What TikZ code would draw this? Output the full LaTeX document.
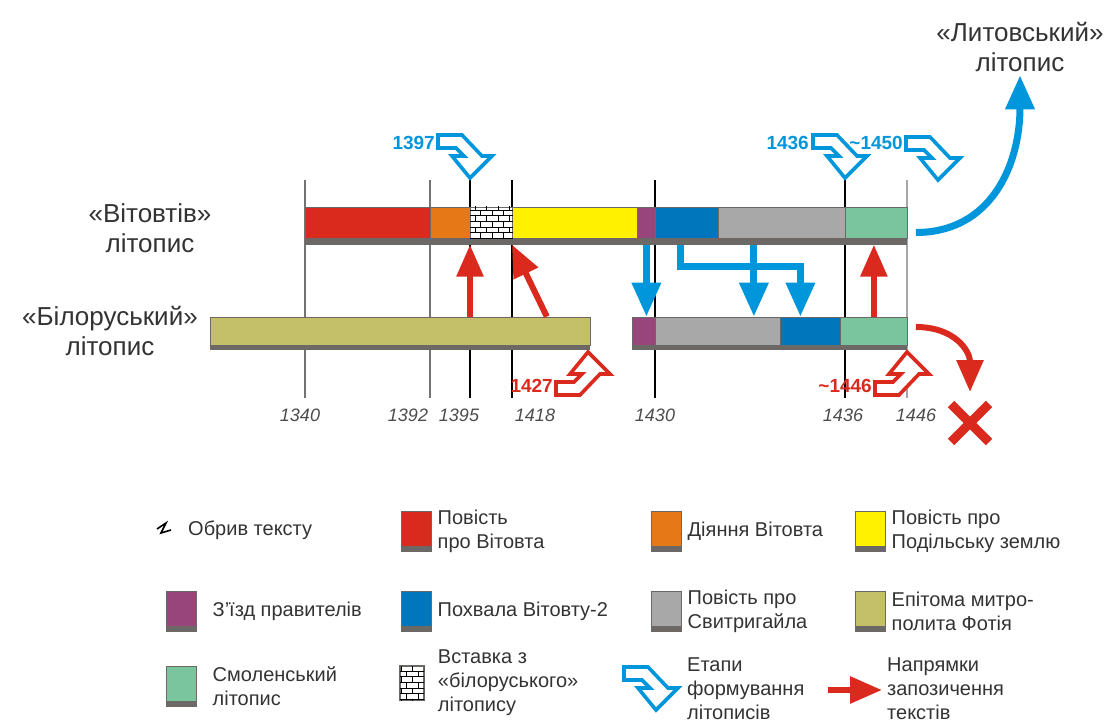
\documentclass[tikz,border=0pt]{standalone}
\usepackage{fontspec}
\setmainfont{Liberation Sans}
\usetikzlibrary{arrows.meta, positioning, calc, patterns, shapes.misc}

\definecolor{cRed}{HTML}{DA2A1E}
\definecolor{cOra}{HTML}{E67817}
\definecolor{cYel}{HTML}{FFF100}
\definecolor{cPur}{HTML}{97457A}
\definecolor{cBlu}{HTML}{0077BD}
\definecolor{cGry}{HTML}{A8A8A8}
\definecolor{cGrn}{HTML}{7BC59E}
\definecolor{cOli}{HTML}{C4C069}
\definecolor{cShd}{HTML}{6B6866}
\definecolor{cBlueL}{HTML}{0096DB}
\definecolor{cTxt}{HTML}{333333}

\tikzset{
    seg/.style={draw=cShd, line width=0.8pt, inner sep=0pt, anchor=west},
    shd/.style={fill=cShd, inner sep=0pt, anchor=west},
    redarr/.style={cRed, line width=6pt, -{Triangle[width=26pt,length=32pt]}},
    bluarr/.style={cBlueL, line width=7pt, -{Triangle[width=28pt,length=34pt]}},
    biglbl/.style={font=\fontsize{26}{30}\selectfont, align=center, text=cTxt},
    yearlbl/.style={font=\fontsize{18}{20}\selectfont\itshape, text=black!70},
    bluelbl/.style={font=\fontsize{19}{20}\selectfont\bfseries, text=cBlueL, anchor=east, inner sep=0pt},
    redlbl/.style={font=\fontsize{19}{20}\selectfont\bfseries, text=cRed, anchor=east, inner sep=0pt},
    legbox/.style={draw=cShd, line width=1pt, minimum width=30pt, minimum height=40pt, inner sep=0pt,
        path picture={\fill[cShd] (path picture bounding box.south west) rectangle ([yshift=5pt]path picture bounding box.south east);}},
    legtxt/.style={font=\fontsize{20}{24}\selectfont, text=cTxt, align=left, anchor=west, inner sep=0pt},
    stepicon/.pic={
        \filldraw[fill=white, line width=3.6pt, line join=miter]
            (-32,-43) -- (-8,-43) -- (12,-22) -- (22,-22) -- (0,0) -- (-18,-22)
            -- (-6,-22) -- (-14,-30) -- (-32,-30) -- cycle;
    }
}

\begin{document}
\begin{tikzpicture}[x=1pt, y=-1pt]
    \useasboundingbox (0,0) rectangle (1104,725);

    % year lines
    \foreach \x/\col in {305/black!55, 430/black!55, 470/black, 512/black, 655/black, 845/black, 907/black!35}
        \draw[\col, line width=1.6pt] (\x,180) -- (\x,398);
    \foreach \x/\yr in {300/1340, 408/1392, 459/1395, 535/1418, 655/1430, 843/1436, 916/1446}
        \node[yearlbl] (yr\yr) at (\x,415) {\yr};

    % "Vitovtiv" chronicle
    \node[shd, minimum width=602pt, minimum height=9pt] (tSh) at (305,240) {};
    \foreach \n/\xa/\xb/\col in {Red/305/430/cRed, Ora/430/470/cOra, Ins/470/512/white, Yel/512/637/cYel,
                                 Pur/637/655/cPur, Blu/655/718/cBlu, Gry/718/845/cGry, Grn/845/907/cGrn}
        \node[seg, fill=\col, minimum width={\xb-\xa}, minimum height=31pt] (t\n) at (\xa,222.5) {};
    \fill[pattern=bricks, pattern color=black] (tIns.south west) rectangle (tIns.north east);

    % "Biloruskyi" chronicle
    \node[shd, minimum width=380pt, minimum height=8pt] (bSh1) at (210,346) {};
    \node[shd, minimum width=275pt, minimum height=8pt] (bSh2) at (632,346) {};
    \node[seg, fill=cOli, minimum width=380pt, minimum height=28pt] (bOli) at (210,331) {};
    \foreach \n/\xa/\xb/\col in {Pur/632/655/cPur, Gry/655/780/cGry, Blu/780/840/cBlu, Grn/840/907/cGrn}
        \node[seg, fill=\col, minimum width={\xb-\xa}, minimum height=28pt] (b\n) at (\xa,331) {};

    \node[biglbl] (vit) at (150,228) {«Вітовтів»\\літопис};
    \node[biglbl] (bil) at (110,331) {«Білоруський»\\літопис};
    \node[biglbl] (lit) at (1020,47) {«Литовський»\\літопис};
    \node[cross out, draw=cRed, line width=9pt, minimum size=29pt] (lost) at (970,423) {};

    % borrowings
    \draw[redarr] (tIns.west |- bOli.north) -- (tIns.west |- tSh.south);
    \draw[redarr] ([xshift=-44pt]bOli.north east) -- (tYel.west |- tSh.south);
    \draw[redarr] (bGrn.north) -- (bGrn.north |- tSh.south);

    % stages
    \coordinate (sPur) at (tPur.south);
    \coordinate (sBlu) at ([xshift=-6pt]tBlu.south);
    \coordinate (sGry) at ([xshift=-28pt]tGry.south);
    \coordinate (eBlu) at ([xshift=-10pt]bBlu.north);
    \draw[bluarr] (sPur |- tSh.south) -- (sPur |- bPur.north);
    \draw[bluarr] (sBlu |- tSh.south) -- ++(0,22) -| (eBlu);
    \draw[bluarr] (sGry |- tSh.south) -- (sGry |- bGry.north);
    \draw[bluarr] ([shift={(8,10)}]tGrn.east) .. controls +(75,0) and +(0,90) .. (lit.south);
    \draw[redarr] ([shift={(8,-4)}]bGrn.east) .. controls +(40,0) and +(0,-40) .. ([yshift=12pt]lost.north);

    \pic[cBlueL] at (470,178) {stepicon};
    \node[bluelbl] (s1397) at (435,143) {1397};
    \pic[cBlueL] at (845,178) {stepicon};
    \node[bluelbl] (s1436) at (809,143) {1436};
    \pic[cBlueL] at (938,180) {stepicon};
    \node[bluelbl] (s1450) at (903,143) {\textasciitilde1450};
    \pic[cRed, yscale=-1] at (588,352) {stepicon};
    \node[redlbl] (s1427) at (553,386) {1427};
    \pic[cRed, yscale=-1] at (907,352) {stepicon};
    \node[redlbl] (s1446) at (872,386) {\textasciitilde1446};

    % legend
    \draw[line width=1.6pt] (157,529) -- (166,523) -- (161,533) -- (171,530);
    \node[legtxt] (lgBreak) at (188,530) {Обрив тексту};
    \node[legbox, fill=cRed] (kRed) at (416,531) {};
    \node[legtxt, right=6pt of kRed] (lgRed) {Повість\\про Вітовта};
    \node[legbox, fill=cOra] (kOra) at (666,531) {};
    \node[legtxt, right=6pt of kOra] (lgOra) {Діяння Вітовта};
    \node[legbox, fill=cYel] (kYel) at (870,531) {};
    \node[legtxt, right=6pt of kYel] (lgYel) {Повість про\\Подільську землю};

    \node[legbox, fill=cPur] (kPur) at (181,611) {};
    \node[legtxt, right=16pt of kPur] (lgPur) {З'їзд правителів};
    \node[legbox, fill=cBlu] (kBlu) at (416,611) {};
    \node[legtxt, right=6pt of kBlu] (lgBlu) {Похвала Вітовту-2};
    \node[legbox, fill=cGry] (kGry) at (666,611) {};
    \node[legtxt, right=6pt of kGry] (lgGry) {Повість про\\Свитригайла};
    \node[legbox, fill=cOli] (kOli) at (870,611) {};
    \node[legtxt, right=6pt of kOli] (lgOli) {Епітома митро-\\полита Фотія};

    \node[legbox, fill=cGrn] (kGrn) at (181,686) {};
    \node[legtxt, right=16pt of kGrn] (lgGrn) {Смоленський\\літопис};
    \node[draw=cShd, line width=1.5pt, minimum width=24pt, minimum height=34pt, inner sep=0pt, fill=white,
          postaction={pattern=bricks, pattern color=black}] (kIns) at (412,683) {};
    \node[legtxt, right=13pt of kIns] (lgIns) {Вставка з\\«білоруського»\\літопису};
    \pic[cBlueL] at (656,710) {stepicon};
    \node[legtxt] (lgStage) at (687,689) {Етапи\\формування\\літописів};
    \coordinate (lgArrS) at (828,690);
    \coordinate (lgArrE) at (882,690);
    \draw[redarr] (lgArrS) -- (lgArrE);
    \node[legtxt] (lgBorrow) at (887,689) {Напрямки\\запозичення\\текстів};
\end{tikzpicture}
\end{document}
